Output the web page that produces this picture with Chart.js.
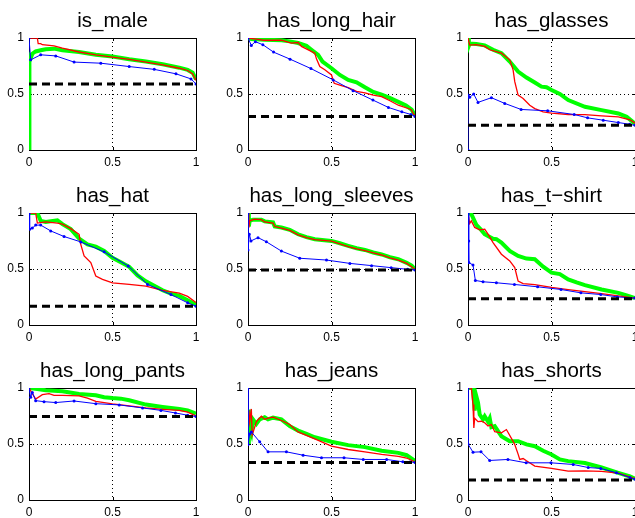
<!DOCTYPE html>
<html>
<head>
<meta charset="utf-8">
<script src="https://cdn.jsdelivr.net/npm/chart.js@4"></script>
<style>
  html, body { margin: 0; padding: 0; background: #fff; overflow: hidden; width: 635px; height: 518px; }
  canvas { position: absolute; }
</style>
</head>
<body>
<script>
const titles = ['is_male', 'has_long_hair', 'has_glasses', 'has_hat', 'has_long_sleeves', 'has_t\u2212shirt', 'has_long_pants', 'has_jeans', 'has_shorts'];
const tickVals = [0, 0.5, 1];
// dashed line = fraction of positives
const prior = [0.59, 0.30, 0.22, 0.168, 0.491, 0.234, 0.745, 0.335, 0.178];

// [recall, precision] pairs
const green = [
  [[0,0],[0,0.8],[0.005,0.84],[0.01,0.82],[0.02,0.86],[0.04,0.88],[0.07,0.89],[0.1,0.9],[0.15,0.905],[0.2,0.89],[0.3,0.875],[0.4,0.85],[0.5,0.835],[0.6,0.81],[0.7,0.79],[0.8,0.765],[0.9,0.735],[0.95,0.715],[0.98,0.69],[1,0.63]],
  [[0,1],[0.02,0.99],[0.1,0.985],[0.2,0.98],[0.25,0.97],[0.3,0.955],[0.35,0.93],[0.38,0.895],[0.42,0.85],[0.446,0.79],[0.5,0.73],[0.55,0.67],[0.6,0.626],[0.65,0.605],[0.7,0.56],[0.75,0.518],[0.8,0.494],[0.845,0.467],[0.9,0.43],[0.946,0.398],[0.98,0.36],[1,0.31]],
  [[0,1],[0.005,0.93],[0.01,0.95],[0.05,0.946],[0.1,0.934],[0.15,0.895],[0.2,0.865],[0.25,0.79],[0.3,0.7],[0.35,0.647],[0.4,0.602],[0.44,0.566],[0.47,0.56],[0.5,0.536],[0.55,0.5],[0.6,0.446],[0.7,0.386],[0.8,0.356],[0.9,0.326],[0.95,0.296],[1,0.236]],
  [[0,1],[0.05,1],[0.07,0.93],[0.1,0.92],[0.17,0.935],[0.2,0.9],[0.25,0.856],[0.3,0.772],[0.35,0.72],[0.4,0.7],[0.45,0.662],[0.5,0.6],[0.55,0.56],[0.6,0.52],[0.65,0.443],[0.7,0.39],[0.75,0.35],[0.8,0.31],[0.85,0.28],[0.9,0.26],[0.95,0.22],[1,0.18]],
  [[0,1],[0.005,0.88],[0.01,0.93],[0.03,0.94],[0.08,0.94],[0.1,0.925],[0.15,0.916],[0.16,0.88],[0.2,0.87],[0.25,0.85],[0.3,0.81],[0.35,0.785],[0.4,0.766],[0.5,0.751],[0.55,0.73],[0.6,0.707],[0.65,0.685],[0.7,0.67],[0.75,0.647],[0.8,0.63],[0.85,0.605],[0.9,0.587],[0.95,0.555],[0.98,0.53],[1,0.5]],
  [[0,1],[0.02,0.99],[0.05,0.895],[0.08,0.847],[0.1,0.81],[0.15,0.77],[0.17,0.766],[0.2,0.736],[0.25,0.662],[0.3,0.617],[0.35,0.593],[0.4,0.587],[0.45,0.521],[0.5,0.467],[0.55,0.455],[0.6,0.407],[0.65,0.38],[0.7,0.356],[0.8,0.317],[0.9,0.287],[0.95,0.265],[1,0.24]],
  [[0,1],[0.05,0.99],[0.1,0.98],[0.2,0.97],[0.3,0.947],[0.4,0.935],[0.45,0.917],[0.5,0.91],[0.55,0.905],[0.6,0.89],[0.7,0.852],[0.8,0.831],[0.9,0.813],[0.95,0.8],[1,0.77]],
  [[0.005,0.5],[0.005,0.807],[0.01,0.65],[0.02,0.6],[0.03,0.72],[0.05,0.68],[0.07,0.72],[0.1,0.739],[0.12,0.72],[0.15,0.735],[0.2,0.72],[0.25,0.659],[0.3,0.62],[0.35,0.59],[0.4,0.56],[0.5,0.52],[0.6,0.49],[0.7,0.472],[0.8,0.44],[0.9,0.421],[0.95,0.4],[1,0.35]],
  [[0,1],[0.03,1],[0.04,0.798],[0.05,0.926],[0.06,0.87],[0.07,0.763],[0.09,0.72],[0.1,0.748],[0.12,0.7],[0.13,0.73],[0.14,0.65],[0.16,0.659],[0.2,0.57],[0.25,0.525],[0.3,0.525],[0.35,0.496],[0.4,0.48],[0.45,0.44],[0.5,0.407],[0.55,0.362],[0.6,0.347],[0.7,0.33],[0.8,0.29],[0.9,0.243],[0.97,0.21],[1,0.19]]
];
const red = [
  [[0,1],[0.05,1],[0.055,0.95],[0.07,0.95],[0.08,0.94],[0.15,0.93],[0.2,0.91],[0.3,0.875],[0.4,0.85],[0.5,0.83],[0.6,0.81],[0.7,0.785],[0.8,0.76],[0.9,0.73],[0.95,0.71],[0.98,0.68],[1,0.62]],
  [[0,1],[0.05,0.99],[0.093,0.98],[0.2,0.98],[0.26,0.955],[0.3,0.96],[0.32,0.925],[0.4,0.865],[0.41,0.814],[0.43,0.745],[0.46,0.716],[0.5,0.67],[0.516,0.596],[0.55,0.58],[0.6,0.557],[0.65,0.524],[0.7,0.51],[0.75,0.49],[0.8,0.476],[0.85,0.44],[0.9,0.4],[0.95,0.375],[0.976,0.362],[1,0.3]],
  [[0,1],[0.01,0.937],[0.05,0.94],[0.1,0.925],[0.13,0.895],[0.2,0.865],[0.25,0.805],[0.27,0.716],[0.28,0.61],[0.3,0.49],[0.33,0.46],[0.37,0.4],[0.4,0.37],[0.45,0.34],[0.5,0.33],[0.6,0.317],[0.7,0.315],[0.8,0.305],[0.9,0.295],[0.97,0.27],[1,0.24]],
  [[0,1],[0.04,1],[0.05,0.91],[0.1,0.92],[0.17,0.91],[0.2,0.9],[0.25,0.86],[0.3,0.81],[0.31,0.72],[0.33,0.617],[0.37,0.557],[0.4,0.437],[0.44,0.407],[0.5,0.377],[0.6,0.362],[0.7,0.347],[0.8,0.31],[0.9,0.285],[0.95,0.255],[1,0.2]],
  [[0,1],[0.005,0.87],[0.01,0.93],[0.04,0.945],[0.08,0.94],[0.1,0.92],[0.15,0.91],[0.16,0.88],[0.2,0.865],[0.25,0.845],[0.3,0.805],[0.35,0.78],[0.4,0.762],[0.5,0.748],[0.55,0.725],[0.6,0.7],[0.65,0.68],[0.7,0.665],[0.75,0.643],[0.8,0.625],[0.85,0.6],[0.9,0.58],[0.95,0.55],[0.98,0.52],[1,0.495]],
  [[0,1],[0.01,0.907],[0.02,0.93],[0.04,0.871],[0.07,0.85],[0.1,0.856],[0.12,0.811],[0.15,0.736],[0.2,0.632],[0.25,0.572],[0.28,0.512],[0.3,0.392],[0.33,0.37],[0.4,0.36],[0.5,0.335],[0.6,0.315],[0.7,0.298],[0.8,0.28],[0.9,0.26],[1,0.24]],
  [[0,1],[0.02,0.95],[0.04,0.902],[0.08,0.941],[0.12,0.95],[0.15,0.935],[0.2,0.935],[0.3,0.93],[0.35,0.91],[0.4,0.881],[0.5,0.858],[0.6,0.84],[0.7,0.822],[0.8,0.81],[0.9,0.8],[0.95,0.785],[1,0.75]],
  [[0.005,0.8],[0.01,0.7],[0.02,0.813],[0.025,0.58],[0.04,0.65],[0.05,0.7],[0.08,0.748],[0.1,0.72],[0.12,0.73],[0.15,0.74],[0.2,0.71],[0.25,0.674],[0.3,0.608],[0.4,0.546],[0.5,0.481],[0.6,0.451],[0.7,0.43],[0.8,0.407],[0.9,0.39],[0.95,0.375],[1,0.34]],
  [[0,1],[0.02,1],[0.03,0.852],[0.035,0.644],[0.04,0.73],[0.06,0.7],[0.08,0.703],[0.1,0.69],[0.12,0.66],[0.14,0.674],[0.16,0.61],[0.2,0.6],[0.23,0.629],[0.26,0.55],[0.28,0.496],[0.3,0.41],[0.31,0.362],[0.33,0.37],[0.35,0.35],[0.4,0.303],[0.5,0.282],[0.6,0.258],[0.7,0.26],[0.8,0.255],[0.9,0.24],[1,0.19]]
];
const blue = [
  [[0,1],[0.01,0.805],[0.07,0.85],[0.16,0.84],[0.27,0.785],[0.43,0.775],[0.6,0.745],[0.75,0.72],[0.88,0.68],[0.97,0.635],[1,0.59]],
  [[0,1],[0.02,0.934],[0.044,0.967],[0.089,0.94],[0.153,0.874],[0.252,0.811],[0.377,0.727],[0.51,0.626],[0.629,0.53],[0.748,0.446],[0.841,0.38],[0.921,0.341],[0.976,0.317],[1,0.3]],
  [[0,0],[0,0.49],[0.006,0.476],[0.01,0.47],[0.034,0.5],[0.06,0.425],[0.14,0.467],[0.22,0.416],[0.318,0.362],[0.477,0.35],[0.636,0.317],[0.716,0.287],[0.81,0.266],[0.9,0.245],[0.968,0.23],[1,0.22]],
  [[0,1],[0.004,0.856],[0.02,0.865],[0.04,0.892],[0.07,0.892],[0.13,0.84],[0.21,0.79],[0.31,0.742],[0.45,0.653],[0.594,0.527],[0.71,0.362],[0.85,0.272],[0.95,0.198],[1,0.168]],
  [[0,1],[0,0.67],[0.008,0.811],[0.018,0.751],[0.06,0.78],[0.11,0.743],[0.2,0.66],[0.31,0.596],[0.47,0.58],[0.61,0.55],[0.74,0.53],[0.857,0.512],[0.956,0.497],[1,0.491]],
  [[0,1],[0.004,0.751],[0.005,0.557],[0.03,0.536],[0.044,0.398],[0.09,0.386],[0.17,0.377],[0.278,0.362],[0.417,0.341],[0.557,0.317],[0.676,0.287],[0.795,0.272],[0.895,0.251],[1,0.24]],
  [[0,1],[0.01,0.917],[0.02,0.96],[0.04,0.887],[0.09,0.878],[0.16,0.87],[0.27,0.884],[0.4,0.86],[0.54,0.849],[0.68,0.822],[0.79,0.8],[0.877,0.777],[0.95,0.757],[1,0.745]],
  [[0,1],[0,0.496],[0.01,0.59],[0.02,0.608],[0.07,0.52],[0.12,0.43],[0.23,0.43],[0.33,0.4],[0.44,0.377],[0.575,0.377],[0.69,0.362],[0.83,0.362],[0.927,0.341],[0.97,0.34],[1,0.335]],
  [[0,1],[0,0.5],[0.03,0.427],[0.078,0.43],[0.13,0.353],[0.239,0.362],[0.348,0.332],[0.497,0.332],[0.63,0.317],[0.72,0.29],[0.795,0.282],[0.889,0.243],[0.97,0.2],[1,0.185]]
];

const FONT = 'Liberation Sans, Arial, Helvetica, sans-serif';
const toXY = pts => pts.map(p => ({ x: p[0], y: p[1] }));

// box round the plot, with small inward ticks like matlab
const framePlugin = {
  id: 'frame',
  beforeDatasetsDraw(chart) {
    const { ctx, chartArea: a, scales } = chart;
    ctx.save();
    ctx.strokeStyle = '#000';
    ctx.lineWidth = 1;
    ctx.beginPath();
    tickVals.forEach(v => {
      const px = Math.round(scales.x.getPixelForValue(v)) + 0.5;
      ctx.moveTo(px, a.bottom); ctx.lineTo(px, a.bottom - 3);
      ctx.moveTo(px, a.top); ctx.lineTo(px, a.top + 3);
      const py = Math.round(scales.y.getPixelForValue(v)) + 0.5;
      ctx.moveTo(a.left, py); ctx.lineTo(a.left + 3, py);
      ctx.moveTo(a.right, py); ctx.lineTo(a.right - 3, py);
    });
    ctx.stroke();
    ctx.strokeRect(Math.round(a.left) + 0.5, Math.round(a.top) + 0.5, Math.round(a.right - a.left), Math.round(a.bottom - a.top));
    ctx.restore();
  }
};

function axis(fit) {
  return {
    type: 'linear', min: 0, max: 1,
    afterBuildTicks: s => { s.ticks = tickVals.map(v => ({ value: v })); },
    afterFit: fit,
    ticks: { font: { family: FONT, size: 12 }, color: '#000', padding: 5, maxRotation: 0, callback: v => String(v) },
    grid: { color: '#000', lineWidth: 1, drawTicks: false },
    border: { display: false, dash: [1, 3] }
  };
}

titles.forEach((t, i) => {
  const col = i % 3, row = Math.floor(i / 3);
  const cv = document.createElement('canvas');
  cv.width = 219; cv.height = 175;
  cv.style.left = (col === 2 ? 439 : col * 219) + 'px';
  cv.style.top = (row * 175) + 'px';
  document.body.appendChild(cv);

  new Chart(cv, {
    type: 'scatter',
    data: {
      datasets: [
        { data: [{ x: 0, y: prior[i] }, { x: 1, y: prior[i] }], showLine: true, borderColor: '#000', borderWidth: 3, borderDash: [8, 5], pointRadius: 0, order: 0 },
        { data: toXY(blue[i]), showLine: true, borderColor: '#0000ff', backgroundColor: '#0000ff', borderWidth: 1, pointRadius: 1.5, pointBorderWidth: 0, order: 1 },
        { data: toXY(red[i]), showLine: true, borderColor: '#ff0000', borderWidth: 1.3, pointRadius: 0, order: 2 },
        { data: toXY(green[i]), showLine: true, borderColor: '#00ff00', borderWidth: 4, pointRadius: 0, order: 3 }
      ]
    },
    options: {
      responsive: false,
      animation: false,
      layout: { padding: { left: 0, right: 23, top: 0, bottom: 3 } },
      plugins: {
        legend: { display: false },
        tooltip: { enabled: false },
        title: { display: true, fullSize: false, text: t, color: '#000', font: { family: FONT, size: 20.5, weight: 'normal', lineHeight: 1.2 }, padding: { top: 9, bottom: 4.4 } }
      },
      scales: {
        x: axis(s => { s.height = 22; }),
        y: axis(s => { s.width = 29; })
      }
    },
    plugins: [framePlugin]
  });
});
</script>
</body>
</html>
